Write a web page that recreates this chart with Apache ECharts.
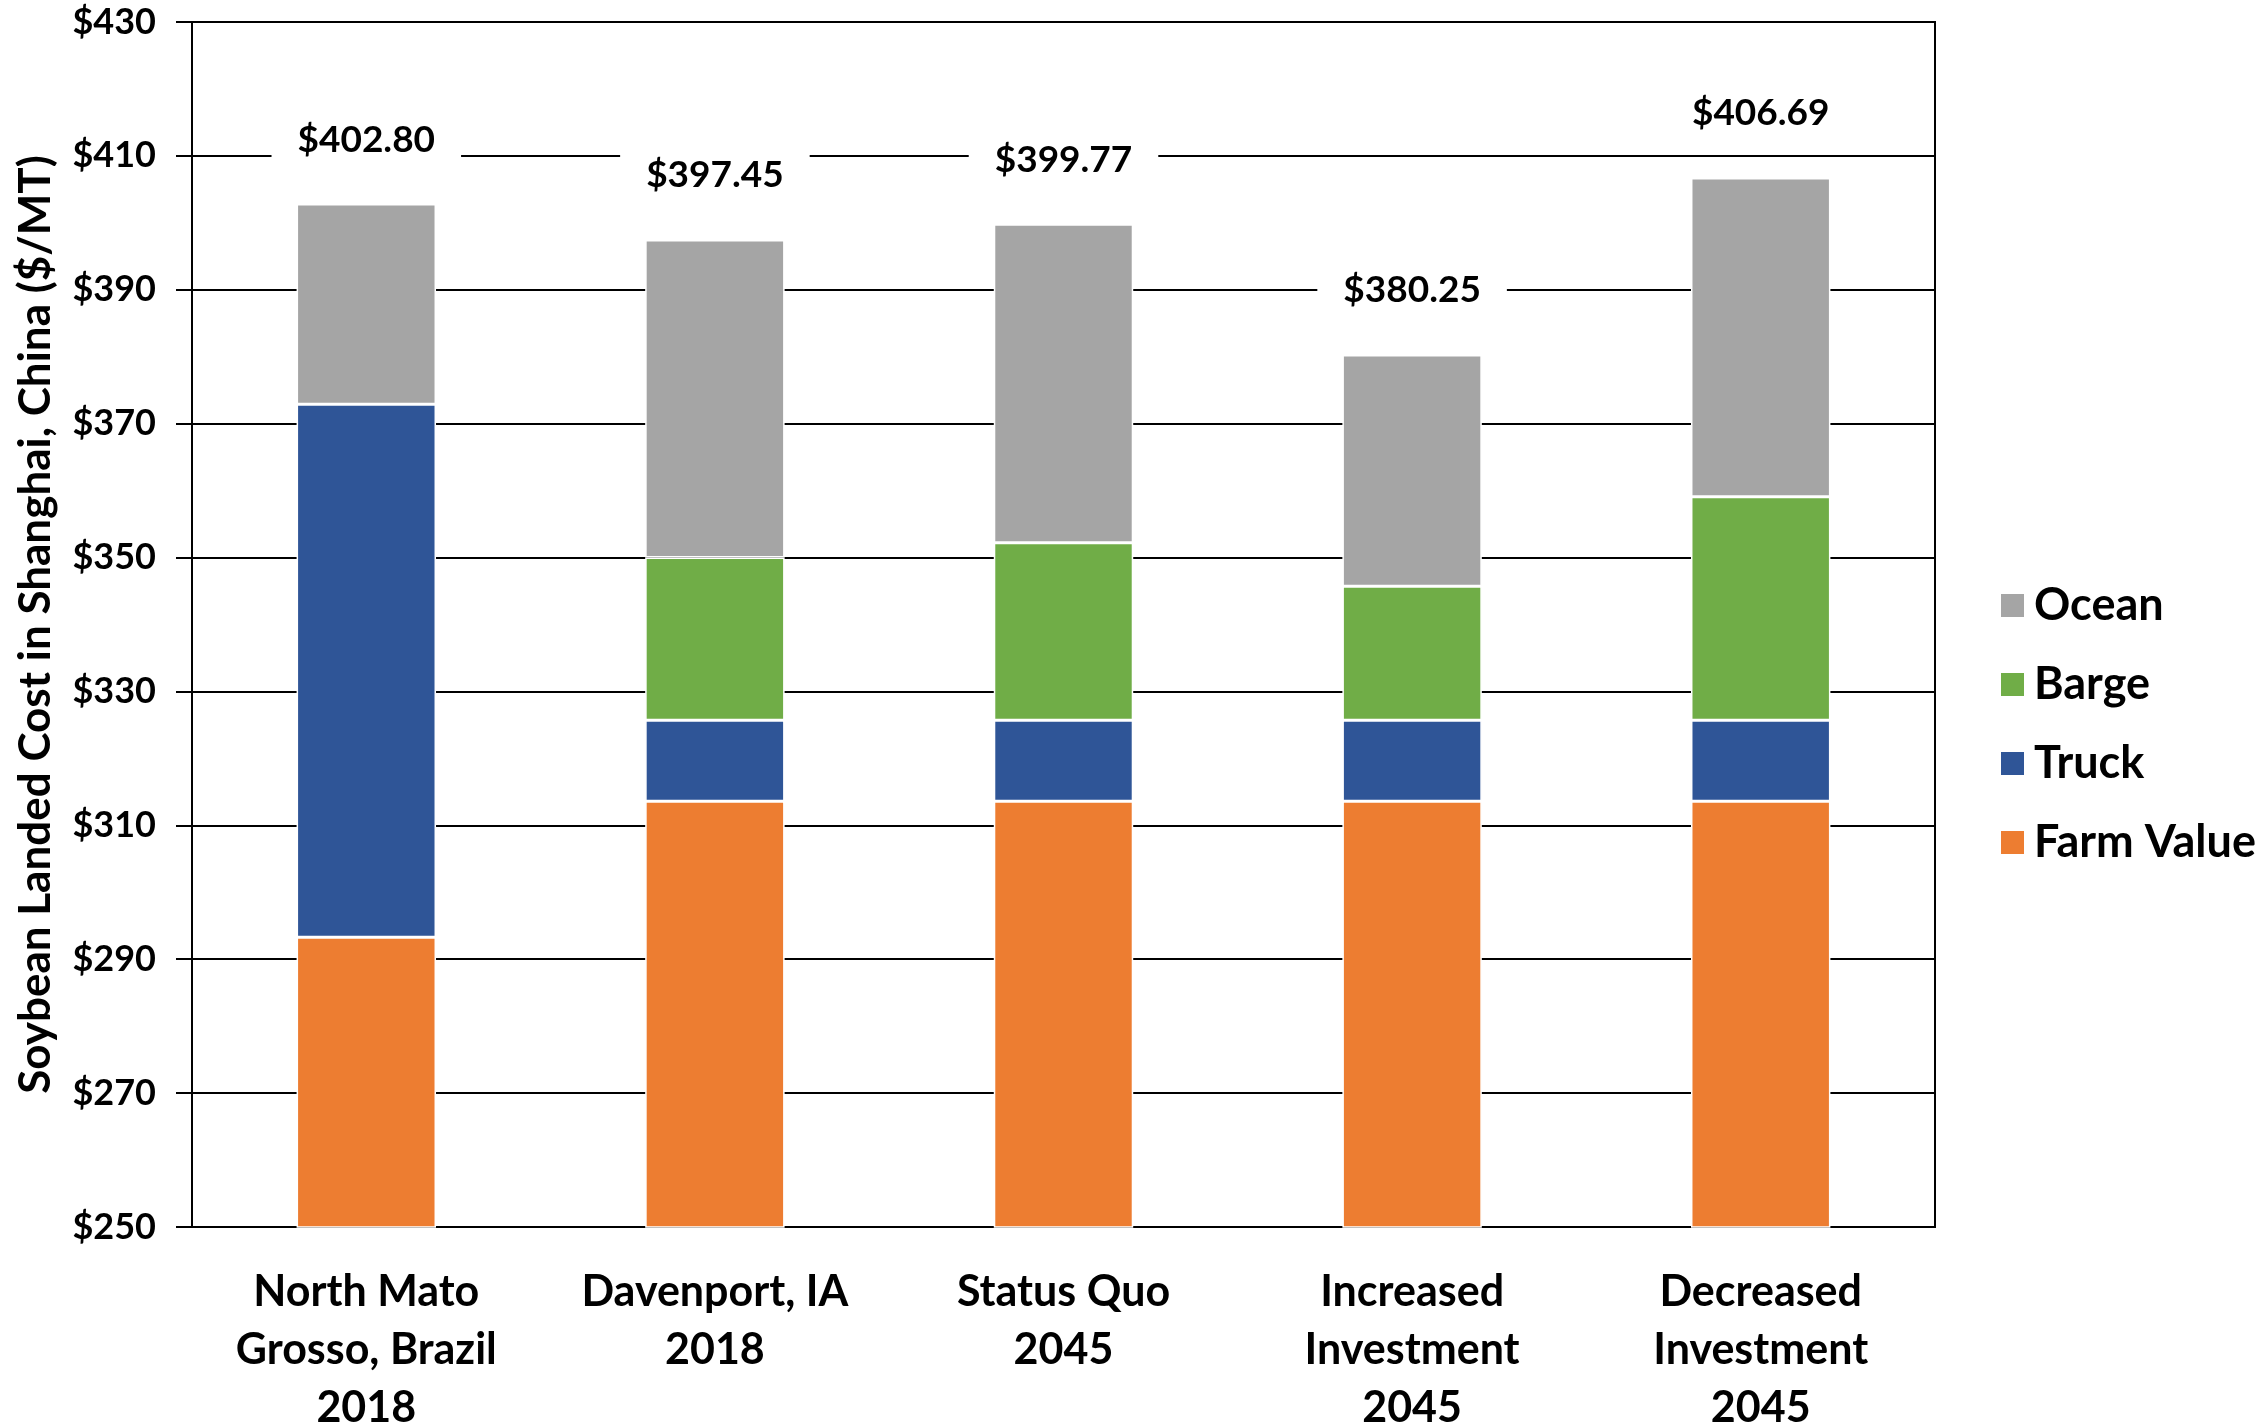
<!DOCTYPE html>
<html>
<head>
<meta charset="utf-8">
<script src="https://cdn.jsdelivr.net/npm/echarts@6/dist/echarts.min.js"></script>
<style>html,body{margin:0;padding:0;background:#fff}#c{width:2264px;height:1426px}</style>
</head>
<body>
<div id="c"></div>
<script>
const categories = ["North Mato\nGrosso, Brazil\n2018", "Davenport, IA\n2018", "Status Quo\n2045", "Increased\nInvestment\n2045", "Decreased\nInvestment\n2045"];
const farmValue = [293.3, 313.6, 313.6, 313.6, 313.6];
const truck = [79.6, 12.1, 12.1, 12.1, 12.1];
const barge = [0, 24.3, 26.5, 20.0, 33.4];
const ocean = [29.9, 47.45, 47.57, 34.55, 47.59];
const totals = [402.80, 397.45, 399.77, 380.25, 406.69];
const yTicks = {min: 250, max: 430, step: 20};

const FONT = 'Lato';
const chart = echarts.init(document.getElementById('c'), null, {renderer: 'canvas'});
const common = {type: 'bar', stack: 'total', barWidth: '40%'};
chart.setOption({
  animation: false,
  textStyle: {fontFamily: FONT},
  grid: {left: 192, right: 329, top: 22, bottom: 199, outerBoundsMode: 'none', containLabel: false,
    show: true, borderColor: '#000', borderWidth: 2, backgroundColor: 'transparent'},
  legend: {
    orient: 'vertical', left: 1994, top: 578,
    data: ['Ocean', 'Barge', 'Truck', 'Farm Value'],
    icon: 'rect', itemWidth: 25, itemHeight: 25, itemGap: 34,
    textStyle: {fontFamily: FONT, fontWeight: 'bold', fontSize: 45, color: '#000', lineHeight: 44, padding: [0, 0, 0, 4]}
  },
  xAxis: {
    type: 'category', data: categories,
    axisLine: {lineStyle: {color: '#000', width: 2}},
    axisTick: {length: 15, lineStyle: {color: '#000', width: 2}},
    axisLabel: {fontFamily: FONT, fontWeight: 'bold', fontSize: 43, color: '#000', lineHeight: 58, margin: 36, interval: 0}
  },
  yAxis: {
    type: 'value', min: yTicks.min, max: yTicks.max, interval: yTicks.step,
    name: 'Soybean Landed Cost in Shanghai, China ($/MT)', nameLocation: 'middle', nameGap: 134,
    nameTextStyle: {fontFamily: FONT, fontWeight: 'bold', fontSize: 44, color: '#000'},
    axisLine: {show: true, lineStyle: {color: '#000', width: 2}},
    axisTick: {show: true, length: 16, lineStyle: {color: '#000', width: 2}},
    splitLine: {lineStyle: {color: '#000', width: 2}},
    axisLabel: {fontFamily: FONT, fontWeight: 'bold', fontSize: 36, color: '#000', margin: 36, formatter: v => '$' + v}
  },
  series: [
    Object.assign({}, common, {name: 'Farm Value', data: farmValue, itemStyle: {color: '#ED7D31', borderColor: '#fff', borderWidth: 1.5}}),
    Object.assign({}, common, {name: 'Truck', data: truck, itemStyle: {color: '#2F5597', borderColor: '#fff', borderWidth: 1.5}}),
    Object.assign({}, common, {name: 'Barge', data: barge, itemStyle: {color: '#70AD47', borderColor: '#fff', borderWidth: 1.5}}),
    Object.assign({}, common, {name: 'Ocean', data: ocean, itemStyle: {color: '#A5A5A5', borderColor: '#fff', borderWidth: 1.5},
      label: {show: true, position: 'top', distance: 40, fontFamily: FONT, fontWeight: 'bold', fontSize: 37, color: '#000',
        backgroundColor: '#fff', padding: [6, 26],
        formatter: p => '$' + totals[p.dataIndex].toFixed(2)}})
  ]
});
</script>
</body>
</html>
